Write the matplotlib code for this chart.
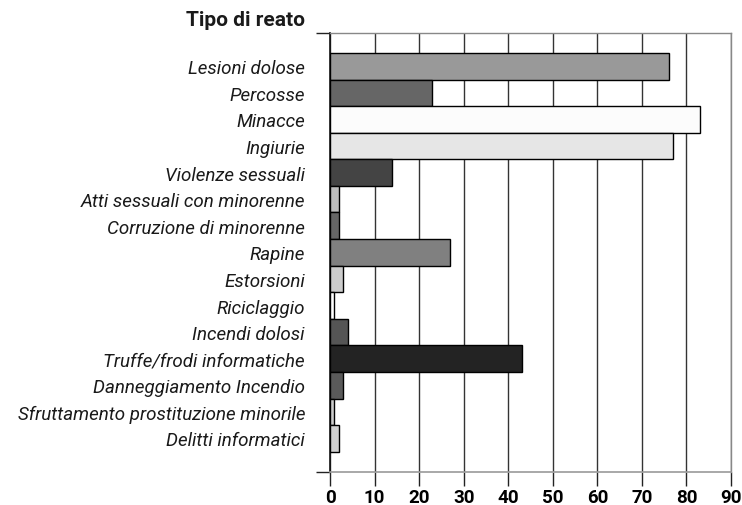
import matplotlib
matplotlib.use("Agg")
import matplotlib.pyplot as plt

categories = ["Lesioni dolose", "Percosse", "Minacce", "Ingiurie", "Violenze sessuali",
              "Atti sessuali con minorenne", "Corruzione di minorenne", "Rapine", "Estorsioni",
              "Riciclaggio", "Incendi dolosi", "Truffe/frodi informatiche",
              "Danneggiamento Incendio", "Sfruttamento prostituzione minorile",
              "Delitti informatici"]
values = [76, 23, 83, 77, 14, 2, 2, 27, 3, 1, 4, 43, 3, 1, 2]
colors = ["#999999", "#666666", "#fcfcfc", "#e6e6e6", "#444444", "#bdbdbd", "#666666",
          "#808080", "#cccccc", "#ffffff", "#555555", "#232323", "#5a5a5a", "#cccccc", "#d0d0d0"]
xticks = [0, 10, 20, 30, 40, 50, 60, 70, 80, 90]
title = "Tipo di reato"

plt.rcParams['font.family'] = ['Roboto', 'DejaVu Sans']

fig = plt.figure(figsize=(7.42, 5.06), dpi=100)
ax = fig.add_axes([330/742, 1-472.7/506, (731-330)/742, (472.7-34)/506])

n = len(categories)
ypos = list(range(n))
ax.barh(ypos, values, height=1.0, color=colors, edgecolor="black", linewidth=1.0, zorder=3)

ax.set_xlim(0, 90)
ax.set_ylim(n - 1 + 0.5 + 0.75, -0.5 - 0.75)

ax.set_xticks(xticks)
ax.set_xticklabels([str(t) for t in xticks], fontweight="bold", fontsize=13.5)
ax.tick_params(axis="x", length=10, width=1, color="#222222", pad=2)
ax.grid(axis="x", color="#333333", linewidth=1.0, zorder=0)

ax.set_yticks(ypos)
ax.set_yticklabels(categories, fontstyle="italic", fontsize=13.5, color="#1a1a1a")
ax.tick_params(axis="y", which="major", length=0, pad=18)
ax.set_yticks([n - 1 + 0.5 + 0.75, -0.5 - 0.75], minor=True)
ax.tick_params(axis="y", which="minor", length=10, width=1, color="#222222")

for s in ["top", "right"]:
    ax.spines[s].set_color("#888888")
    ax.spines[s].set_linewidth(1.0)
ax.spines["bottom"].set_color("#999999")
ax.spines["bottom"].set_linewidth(1.2)
ax.spines["left"].set_color("#111111")
ax.spines["left"].set_linewidth(1.2)

fig.text(305/742, 1-20/506, title, ha="right", va="center", fontweight="bold", fontsize=15,
         color="#1a1a1a")

fig.savefig("out.png", dpi=100)
